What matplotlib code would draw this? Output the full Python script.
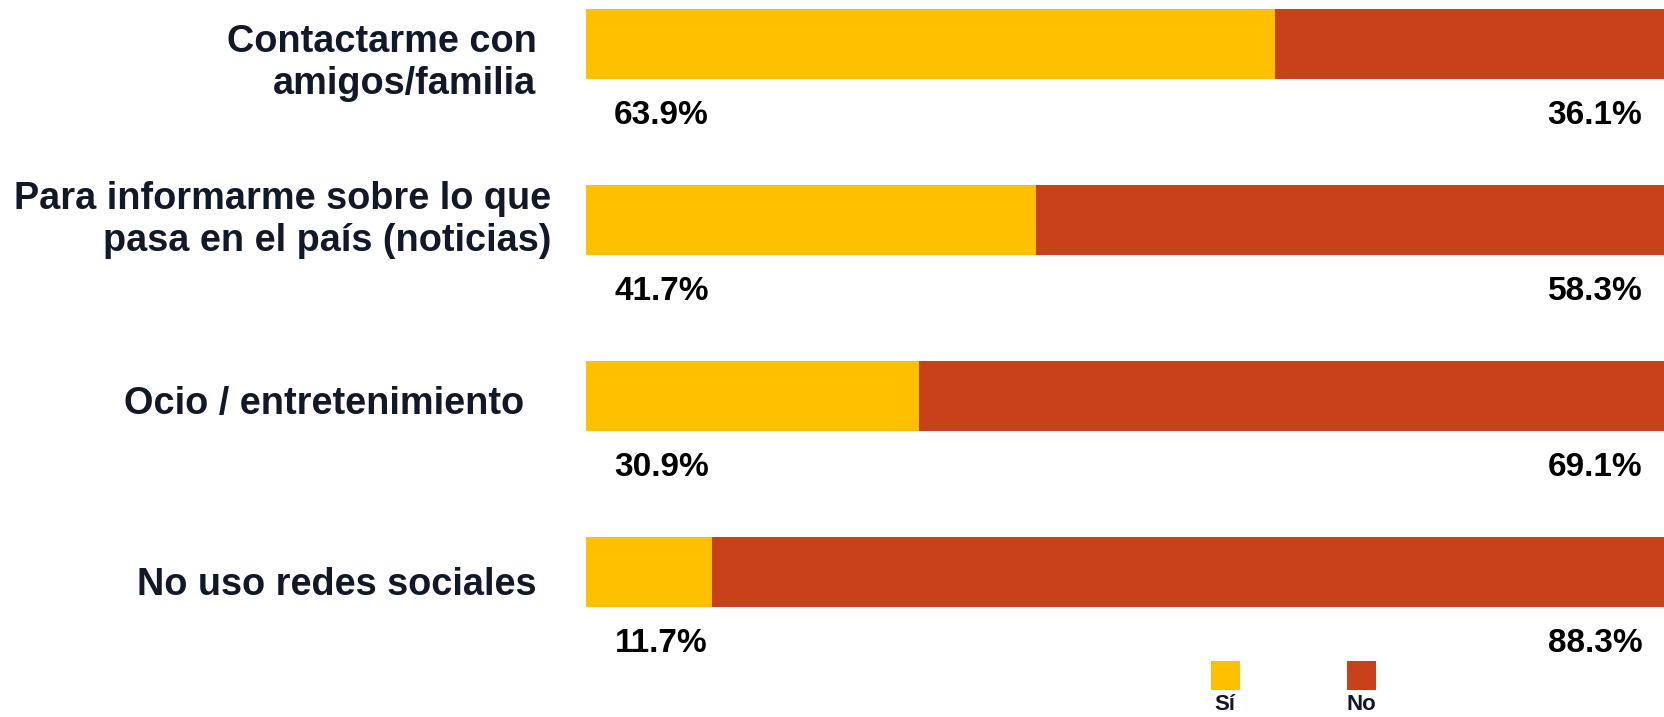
import matplotlib.pyplot as plt
from matplotlib.patches import Rectangle

categories = [
    'Contactarme con\namigos/familia',
    'Para informarme sobre lo que\npasa en el país (noticias)',
    'Ocio / entretenimiento',
    'No uso redes sociales',
]
si_values = [63.9, 41.7, 30.9, 11.7]
no_values = [36.1, 58.3, 69.1, 88.3]
series_names = ['Sí', 'No']
colors = ['#FFC000', '#C9411A']
text_color = '#111827'

plt.rcParams['font.family'] = ['Liberation Sans', 'DejaVu Sans']

fig = plt.figure(figsize=(16.64, 7.17), dpi=100)
ax = fig.add_axes([586 / 1664, 0, 1 - 586 / 1664, 1])

ypos = list(range(len(categories)))
ax.barh(ypos, si_values, height=0.403, color=colors[0], linewidth=0)
ax.barh(ypos, no_values, left=si_values, height=0.403, color=colors[1], linewidth=0)

ax.set_xlim(0, 100)
ax.set_ylim(3.824, -0.25)
ax.axis('off')

# category labels to the left of the bars
label_x = [-4.6, -3.2, -5.7, -4.6]
label_dy = [0.11, 0.0, 0.045, 0.075]
for i, cat in enumerate(categories):
    ax.text(label_x[i], i + label_dy[i], cat, ha='right', va='center', fontsize=27.3,
            fontweight='bold', color=text_color, linespacing=1.22, clip_on=False)

# percentages under each bar
for i in ypos:
    ax.text(7.0, i + 0.404, f'{si_values[i]:.1f}%', ha='center', va='center',
            fontsize=24, fontweight='bold', color='black')
    ax.text(98.0, i + 0.404, f'{no_values[i]:.1f}%', ha='right', va='center',
            fontsize=24, fontweight='bold', color='black')

# legend: squares with names below
W, H = 1664, 717
for name, col, x0 in zip(series_names, colors, [1211, 1347]):
    fig.patches.append(Rectangle((x0 / W, 1 - 690 / H), 29 / W, 29 / H,
                                 transform=fig.transFigure, color=col, linewidth=0))
    fig.text((x0 + 14) / W, 1 - 705 / H, name, ha='center', va='center',
             fontsize=16, fontweight='bold', color=text_color)

fig.savefig('out.png', dpi=100)
